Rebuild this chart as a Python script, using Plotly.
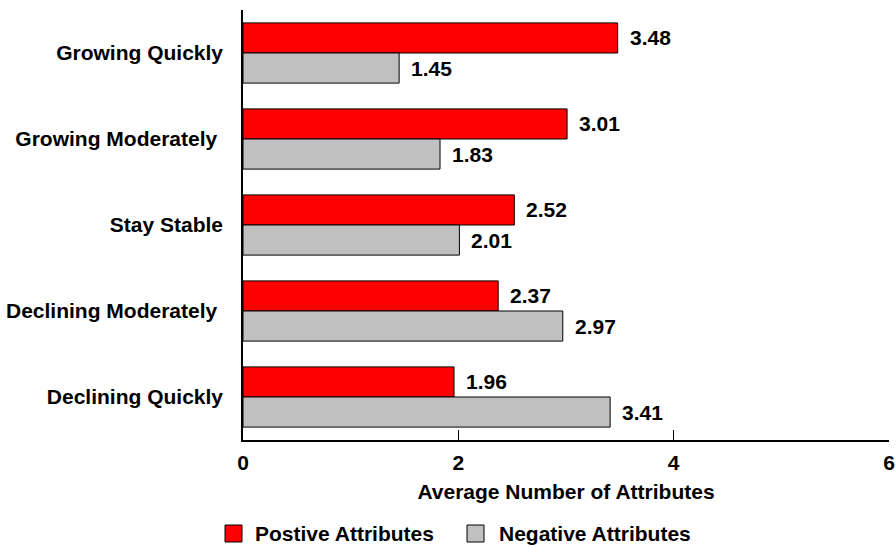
import plotly.graph_objects as go

# Categories (top to bottom) and series values
categories = ["Growing Quickly", "Growing Moderately\u00a0", "Stay Stable",
              "Declining Moderately\u00a0", "Declining Quickly"]
positive = [3.48, 3.01, 2.52, 2.37, 1.96]
negative = [1.45, 1.83, 2.01, 2.97, 3.41]
x_ticks = [0, 2, 4, 6]
series_names = ["Postive Attributes", "Negative Attributes"]
series_colors = ["#ff0000", "#c0c0c0"]

FONT = "Arial, 'Liberation Sans', sans-serif"
SIZE = 21

W, H = 896, 548
ML, MR, MT, MB = 243, 7, 10, 108
PW, PH = W - ML - MR, H - MT - MB


def paper_x(px):
    return (px - ML) / PW


def paper_y(py):
    return (H - MB - py) / PH


fig = go.Figure()
for name, color, vals in zip(series_names, series_colors, (positive, negative)):
    fig.add_trace(go.Bar(
        y=categories, x=vals, orientation="h", name=name, showlegend=False,
        marker=dict(color=color, line=dict(color="black", width=1)),
    ))

# Value labels just past the end of each bar
offset = 0.175
for i, cat in enumerate(categories):
    for vals, shift in ((positive, -offset), (negative, offset)):
        fig.add_annotation(
            x=vals[i], y=i + shift, xref="x", yref="y",
            text=f"{vals[i]:.2f}", showarrow=False,
            xanchor="left", yanchor="middle", xshift=10,
            font=dict(family=FONT, size=SIZE, color="black", weight="bold"),
        )

# Legend row below the axis title: swatch + label per series
legend_items = [(225, 253), (467, 497)]
for (sx, tx), name, color in zip(legend_items, series_names, series_colors):
    fig.add_shape(
        type="rect", xref="paper", yref="paper",
        x0=paper_x(sx), x1=paper_x(sx + 17), y0=paper_y(542), y1=paper_y(525),
        fillcolor=color, line=dict(color="black", width=1),
    )
    fig.add_annotation(
        x=paper_x(tx), y=paper_y(533), xref="paper", yref="paper",
        text=name, showarrow=False, xanchor="left", yanchor="middle",
        font=dict(family=FONT, size=SIZE, color="black", weight="bold"),
    )

fig.update_layout(
    width=W, height=H,
    margin=dict(l=ML, r=MR, t=MT, b=MB),
    paper_bgcolor="white", plot_bgcolor="white",
    barmode="group", bargap=0.3, bargroupgap=0,
    font=dict(family=FONT, size=SIZE, color="black", weight="bold"),
    showlegend=False,
)
fig.update_xaxes(
    range=[0, 6], tickvals=x_ticks, ticktext=[str(t) for t in x_ticks],
    automargin=False, ticklabeloverflow="allow",
    showgrid=False, zeroline=False,
    showline=True, linecolor="black", linewidth=1.5,
    ticks="inside", ticklen=10, tickcolor="black", tickwidth=1,
    ticklabelstandoff=3,
    tickfont=dict(family=FONT, size=SIZE, weight="bold"),
    title=dict(text="Average Number of Attributes", standoff=11,
               font=dict(family=FONT, size=SIZE, weight="bold")),
)
fig.update_yaxes(
    type="category", autorange="reversed", automargin=False,
    showgrid=False, zeroline=False,
    showline=True, linecolor="black", linewidth=1.5,
    ticks="", ticklabelstandoff=14,
    tickfont=dict(family=FONT, size=SIZE, weight="bold"),
)

fig.write_html("out.html")
